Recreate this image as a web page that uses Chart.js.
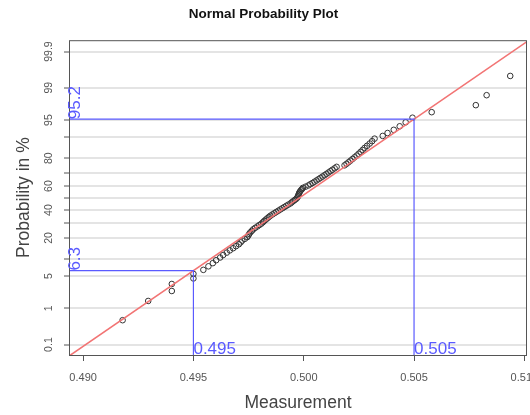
<!DOCTYPE html>
<html>
<head>
<meta charset="utf-8">
<script src="https://cdn.jsdelivr.net/npm/chart.js@4.4.1/dist/chart.umd.min.js"></script>
<style>
  html, body { margin: 0; padding: 0; background: #fff; overflow: hidden; }
</style>
</head>
<body>
<canvas id="chart" width="560" height="415"></canvas>
<script>
const measurement = [
  0.49179, 0.49295, 0.49402, 0.49402, 0.49500, 0.49500, 0.49545, 0.49568, 0.49588, 0.49603,
  0.49621, 0.49635, 0.49651, 0.49665, 0.49680, 0.49693, 0.49706, 0.49714, 0.49721, 0.49733,
  0.49744, 0.49749, 0.49753, 0.49758, 0.49765, 0.49771, 0.49780, 0.49790, 0.49799, 0.49808,
  0.49815, 0.49821, 0.49828, 0.49835, 0.49842, 0.49849, 0.49858, 0.49867, 0.49876, 0.49885,
  0.49894, 0.49903, 0.49912, 0.49921, 0.49930, 0.49940, 0.49946, 0.49953, 0.49960, 0.49967,
  0.49971, 0.49974, 0.49976, 0.49978, 0.49980, 0.49983, 0.49987, 0.49992, 0.49996, 0.50008,
  0.50021, 0.50030, 0.50040, 0.50049, 0.50058, 0.50067, 0.50076, 0.50085, 0.50094, 0.50103,
  0.50112, 0.50121, 0.50130, 0.50140, 0.50149, 0.50185, 0.50194, 0.50203, 0.50212, 0.50221,
  0.50230, 0.50240, 0.50249, 0.50258, 0.50267, 0.50276, 0.50287, 0.50299, 0.50310, 0.50321,
  0.50358, 0.50380, 0.50408, 0.50435, 0.50462, 0.50493, 0.50580, 0.50780, 0.50829, 0.50936
];

// probability in % for each point
const probability = [
  0.5, 1.5, 2.5, 3.5, 4.5, 5.5, 6.5, 7.5, 8.5, 9.5,
  10.5, 11.5, 12.5, 13.5, 14.5, 15.5, 16.5, 17.5, 18.5, 19.5,
  20.5, 21.5, 22.5, 23.5, 24.5, 25.5, 26.5, 27.5, 28.5, 29.5,
  30.5, 31.5, 32.5, 33.5, 34.5, 35.5, 36.5, 37.5, 38.5, 39.5,
  40.5, 41.5, 42.5, 43.5, 44.5, 45.5, 46.5, 47.5, 48.5, 49.5,
  50.5, 51.5, 52.5, 53.5, 54.5, 55.5, 56.5, 57.5, 58.5, 59.5,
  60.5, 61.5, 62.5, 63.5, 64.5, 65.5, 66.5, 67.5, 68.5, 69.5,
  70.5, 71.5, 72.5, 73.5, 74.5, 75.5, 76.5, 77.5, 78.5, 79.5,
  80.5, 81.5, 82.5, 83.5, 84.5, 85.5, 86.5, 87.5, 88.5, 89.5,
  90.5, 91.5, 92.5, 93.5, 94.5, 95.5, 96.5, 97.5, 98.5, 99.5
];

// fitted normal line
const fitMean = 0.49979;
const fitSd = 0.00313;

// marked readings (blue)
const markX = [0.495, 0.505];
const markP = [6.3, 95.2];

// axes
const xTicks = [0.490, 0.495, 0.500, 0.505, 0.510];
const xMin = 0.48936, xMax = 0.51012;
const yTickProbs = [0.1, 1, 5, 10, 20, 30, 40, 50, 60, 70, 80, 90, 95, 99, 99.9];
const yTickLabels = ['0.1', '1', '5', '', '20', '', '40', '', '60', '', '80', '', '95', '99', '99.9'];
const zMin = -3.31, zMax = 3.33;

const markColor = '#5a5aff';

// inverse normal cdf (Acklam)
function qnorm(p) {
  const a = [-3.969683028665376e+01, 2.209460984245205e+02, -2.759285104469687e+02, 1.383577518672690e+02, -3.066479806614716e+01, 2.506628277459239e+00];
  const b = [-5.447609879822406e+01, 1.615858368580409e+02, -1.556989798598866e+02, 6.680131188771972e+01, -1.328068155288572e+01];
  const c = [-7.784894002430293e-03, -3.223964580411365e-01, -2.400758277161838e+00, -2.549732539343734e+00, 4.374664141464968e+00, 2.938163982698783e+00];
  const d = [7.784695709041462e-03, 3.224671290700398e-01, 2.445134137142996e+00, 3.754408661907416e+00];
  const pl = 0.02425;
  let q, r;
  if (p < pl) {
    q = Math.sqrt(-2 * Math.log(p));
    return (((((c[0]*q+c[1])*q+c[2])*q+c[3])*q+c[4])*q+c[5]) / ((((d[0]*q+d[1])*q+d[2])*q+d[3])*q+1);
  }
  if (p > 1 - pl) {
    q = Math.sqrt(-2 * Math.log(1 - p));
    return -(((((c[0]*q+c[1])*q+c[2])*q+c[3])*q+c[4])*q+c[5]) / ((((d[0]*q+d[1])*q+d[2])*q+d[3])*q+1);
  }
  q = p - 0.5; r = q * q;
  return (((((a[0]*r+a[1])*r+a[2])*r+a[3])*r+a[4])*r+a[5])*q / (((((b[0]*r+b[1])*r+b[2])*r+b[3])*r+b[4])*r+1);
}

const points = measurement.map((m, i) => ({ x: m, y: qnorm(probability[i] / 100) }));
const fitLine = [xMin, xMax].map(v => ({ x: v, y: (v - fitMean) / fitSd }));
const markLines = markX.map((mx, i) => {
  const z = qnorm(markP[i] / 100);
  return [{ x: xMin, y: z }, { x: mx, y: z }, { x: mx, y: zMin }];
});

// frame + blue labels
const annotate = {
  id: 'annotate',
  afterDatasetsDraw(chart) {
    const { ctx, chartArea: a, scales: { x, y } } = chart;
    ctx.save();
    ctx.strokeStyle = '#555';
    ctx.lineWidth = 1;
    ctx.strokeRect(a.left + 0.5, a.top + 0.5, a.width - 1, a.height);

    ctx.fillStyle = markColor;
    ctx.font = "17px 'Liberation Sans', Arial, sans-serif";
    ctx.textAlign = 'left';
    ctx.textBaseline = 'alphabetic';
    markX.forEach((mx, i) => {
      const px = x.getPixelForValue(mx);
      const py = y.getPixelForValue(qnorm(markP[i] / 100));
      ctx.fillText(mx.toFixed(3), px, a.bottom - 1);
      ctx.save();
      ctx.translate(a.left + 11, py);
      ctx.rotate(-Math.PI / 2);
      ctx.fillText(String(markP[i]), 0, 0);
      ctx.restore();
    });
    ctx.restore();
  }
};

Chart.defaults.font.family = "'Liberation Sans', Arial, sans-serif";

new Chart(document.getElementById('chart'), {
  type: 'scatter',
  data: {
    datasets: [
      ...markLines.map(d => ({
        data: d, showLine: true, borderColor: markColor, borderWidth: 1.2,
        pointRadius: 0, fill: false, order: 0
      })),
      { data: fitLine, showLine: true, borderColor: '#f27474', borderWidth: 1.6, pointRadius: 0, order: 1 },
      { data: points, pointRadius: 2.8, pointStyle: 'circle', borderColor: '#333',
        backgroundColor: 'rgba(0,0,0,0)', borderWidth: 1, order: 2 }
    ]
  },
  options: {
    responsive: false,
    animation: false,
    layout: { padding: { top: 0, left: 0, right: 33, bottom: 0 } },
    plugins: {
      legend: { display: false },
      tooltip: { enabled: false },
      title: {
        display: true,
        text: 'Normal Probability Plot',
        color: '#111',
        font: { size: 13.5, weight: 'bold' },
        padding: { top: 6, bottom: 18 }
      }
    },
    scales: {
      x: {
        type: 'linear',
        min: xMin,
        max: xMax,
        afterBuildTicks: s => { s.ticks = xTicks.map(v => ({ value: v })); },
        afterFit: s => { s.height = 60; },
        ticks: { autoSkip: false, maxRotation: 0, color: '#555', font: { size: 11 }, padding: 10,
          callback: v => v.toFixed(3) },
        grid: { drawOnChartArea: false, drawTicks: true, tickLength: 6, tickColor: '#555', tickWidth: 1 },
        border: { display: false },
        title: { display: true, text: 'Measurement', color: '#444', font: { size: 17.5 }, padding: { top: 0, bottom: 1 } }
      },
      y: {
        type: 'linear',
        min: zMin,
        max: zMax,
        afterBuildTicks: s => { s.ticks = yTickProbs.map(p => ({ value: qnorm(p / 100) })); },
        afterFit: s => { s.width = 69; },
        ticks: { autoSkip: false, minRotation: 90, maxRotation: 90, crossAlign: 'center', padding: 5,
          color: '#555', font: { size: 10.5 }, callback: (v, i) => yTickLabels[i] },
        grid: { color: '#e4e4e4', lineWidth: 2, drawTicks: true, tickLength: 5, tickColor: '#555', tickWidth: 1 },
        border: { display: false },
        title: { display: true, text: 'Probability in %', color: '#444', font: { size: 17.5 }, padding: { top: 13.5, bottom: 0 } }
      }
    }
  },
  plugins: [annotate]
});
</script>
</body>
</html>
